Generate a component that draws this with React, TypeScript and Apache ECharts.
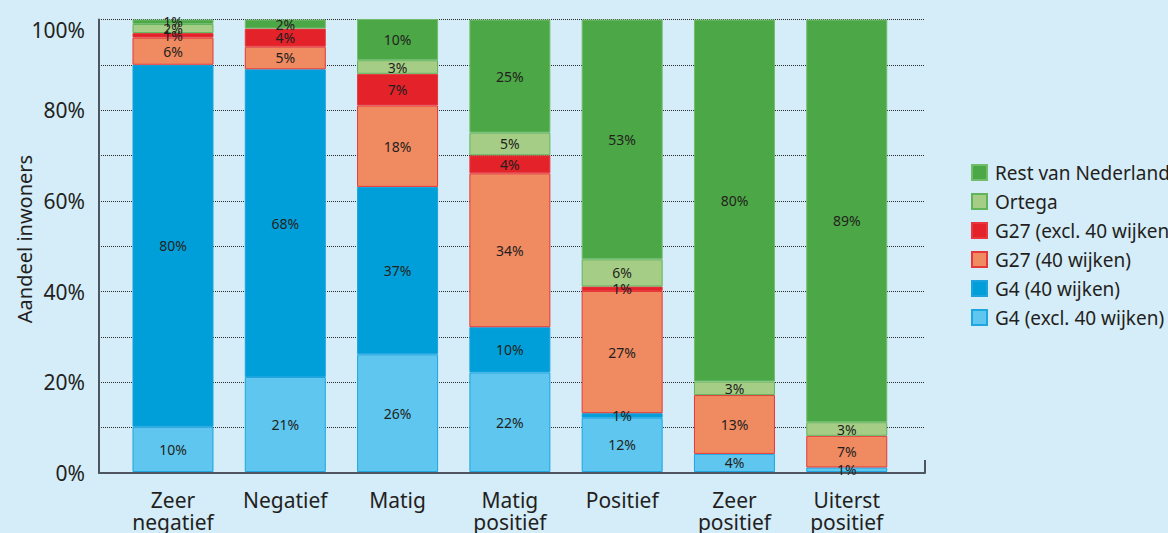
import React, { useEffect, useRef } from "react";
import * as echarts from "echarts";

const categories = [
  "Zeer\nnegatief",
  "Negatief",
  "Matig",
  "Matig\npositief",
  "Positief",
  "Zeer\npositief",
  "Uiterst\npositief",
];

const g4Excl = [10, 21, 26, 22, 12, 4, 1];
const g4Wijken = [80, 68, 37, 10, 1, 0, 0];
const g27Wijken = [6, 5, 18, 34, 27, 13, 7];
const g27Excl = [1, 4, 7, 4, 1, 0, 0];
const ortega = [2, 0, 3, 5, 6, 3, 3];
const restNL = [1, 2, 10, 25, 53, 80, 89];

const yTicks = [0, 20, 40, 60, 80, 100];

const seriesDefs = [
  { name: "G4 (excl. 40 wijken)", data: g4Excl, color: "#5ec6ef", border: "#1ea6df" },
  { name: "G4 (40 wijken)", data: g4Wijken, color: "#009fda", border: "#1aa3dc" },
  { name: "G27 (40 wijken)", data: g27Wijken, color: "#f08a60", border: "#e5383a" },
  { name: "G27 (excl. 40 wijken)", data: g27Excl, color: "#e42229", border: "#e8383d" },
  { name: "Ortega", data: ortega, color: "#a6cd85", border: "#62b45c" },
  { name: "Rest van Nederland", data: restNL, color: "#4ca746", border: "#72bd6c" },
];

const legendOrder = [
  "Rest van Nederland",
  "Ortega",
  "G27 (excl. 40 wijken)",
  "G27 (40 wijken)",
  "G4 (40 wijken)",
  "G4 (excl. 40 wijken)",
];

const FONT = "Noto Sans";
const TEXT = "#231f20";
const AXIS = "#4f5560";

export default function App() {
  const ref = useRef<HTMLDivElement>(null);

  useEffect(() => {
    document.body.style.margin = "0";
    if (!ref.current) return;
    const chart = echarts.init(ref.current, undefined, { renderer: "svg" });

    const barSeries = seriesDefs.map((s) => ({
      name: s.name,
      type: "bar",
      stack: "total",
      xAxisIndex: 0,
      yAxisIndex: 0,
      barWidth: 81,
      data: s.data.map((v) => (v > 0 ? v : "-")),
      itemStyle: { color: s.color, borderColor: s.border, borderWidth: 1 },
      label: {
        show: true,
        position: "inside",
        fontFamily: FONT,
        fontSize: 14,
        color: TEXT,
        formatter: (p: any) => (p.value > 0 ? p.value + "%" : ""),
      },
      emphasis: { disabled: true },
    }));

    chart.setOption({
      animation: false,
      backgroundColor: "#d5ecf9",
      textStyle: { fontFamily: FONT },
      grid: [
        { left: 116.85, right: 265.1, top: 19.5, bottom: 60 },
        { left: 99, right: 243, top: 19.5, bottom: 60 },
      ],
      legend: {
        orient: "vertical",
        left: 966,
        top: 158,
        itemWidth: 15,
        itemHeight: 15,
        itemGap: 10,
        icon: "rect",
        data: legendOrder,
        textStyle: {
          fontFamily: FONT,
          fontSize: 19,
          color: TEXT,
          padding: [0, 0, 0, 3],
        },
      },
      xAxis: [
        {
          type: "category",
          gridIndex: 0,
          data: categories,
          axisLine: { show: false },
          axisTick: { show: false },
          axisLabel: {
            margin: 17,
            fontFamily: FONT,
            fontSize: 21,
            lineHeight: 22,
            color: TEXT,
            interval: 0,
          },
        },
        {
          type: "value",
          gridIndex: 1,
          min: 0,
          max: 1,
          interval: 1,
          axisLine: { show: true, lineStyle: { color: AXIS, width: 2 } },
          axisTick: { show: true, inside: true, length: 13, lineStyle: { color: AXIS, width: 2 } },
          axisLabel: { show: false },
          splitLine: { show: false },
        },
      ],
      yAxis: [
        {
          type: "value",
          gridIndex: 0,
          min: 0,
          max: 100,
          show: false,
        },
        {
          type: "value",
          gridIndex: 1,
          min: 0,
          max: 100,
          interval: 10,
          axisLine: { show: true, lineStyle: { color: AXIS, width: 2 } },
          axisTick: { show: false },
          axisLabel: {
            margin: 14,
            fontFamily: FONT,
            fontSize: 21,
            color: TEXT,
            verticalAlignMaxLabel: "top",
            formatter: (v: number) => (yTicks.includes(v) ? v + "%" : ""),
          },
          splitLine: {
            show: true,
            lineStyle: { color: "#2a2a2a", width: 1, type: [1, 1] },
          },
        },
      ],
      graphic: [
        {
          type: "text",
          x: 24,
          y: 239,
          rotation: Math.PI / 2,
          style: {
            text: "Aandeel inwoners",
            fontFamily: FONT,
            fontSize: 20,
            fill: TEXT,
            align: "center",
            verticalAlign: "middle",
          },
        },
      ],
      series: barSeries,
    });

    return () => chart.dispose();
  }, []);

  return <div ref={ref} style={{ width: 1168, height: 533 }} />;
}
